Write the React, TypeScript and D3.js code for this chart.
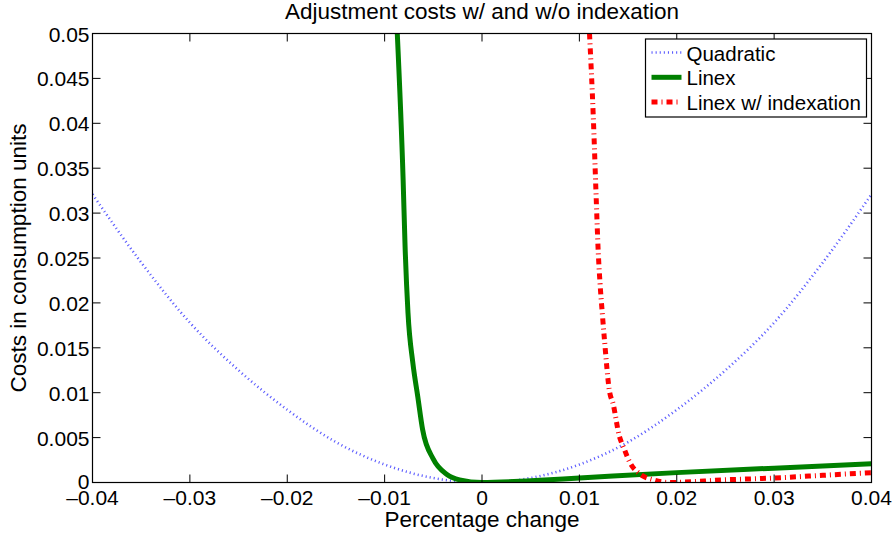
import * as d3 from 'd3';
import { useEffect, useRef } from 'react';

// values
const quadX = [-0.04, -0.035, -0.03, -0.025, -0.02, -0.015, -0.01, -0.005, 0, 0.005, 0.01, 0.015, 0.02, 0.025, 0.03, 0.035, 0.04];
const quadY = [0.0321, 0.0245, 0.0178, 0.0125, 0.0081, 0.0045, 0.002, 0.0005, 0, 0.0005, 0.002, 0.0045, 0.0081, 0.0125, 0.0178, 0.0245, 0.0321];

const linexX = [-0.0087, -0.0081, -0.0079, -0.0076, -0.0071, -0.0066, -0.0061, -0.005, -0.0036, -0.0023, 0, 0.005, 0.01, 0.02, 0.03, 0.04];
const linexY = [0.05, 0.0337, 0.0263, 0.0189, 0.0133, 0.0096, 0.0059, 0.0026, 0.0009, 0.0003, 0, 0.0002, 0.0005, 0.0011, 0.0016, 0.0021];

const indexX = [0.01104, 0.01143, 0.01171, 0.01194, 0.01212, 0.01235, 0.0126, 0.01307, 0.01348, 0.01407, 0.01458, 0.0152, 0.01615, 0.01759, 0.0192, 0.025, 0.03, 0.035, 0.04];
const indexY = [0.05, 0.0407, 0.0322, 0.0256, 0.0222, 0.0189, 0.0156, 0.0103, 0.0087, 0.0053, 0.0038, 0.0022, 0.001, 0.0003, 0, 0.0003, 0.0005, 0.0008, 0.0011];

const xTicks = [-0.04, -0.03, -0.02, -0.01, 0, 0.01, 0.02, 0.03, 0.04];
const yTicks = [0, 0.005, 0.01, 0.015, 0.02, 0.025, 0.03, 0.035, 0.04, 0.045, 0.05];

const seriesNames = ['Quadratic', 'Linex', 'Linex w/ indexation'];

const W = 893;
const H = 537;
const FONT = '"Liberation Sans", Arial, Helvetica, sans-serif';

export default function App() {
  const ref = useRef(null);

  useEffect(() => {
    const svg = d3.select(ref.current);
    svg.selectAll('*').remove();

    const margin = { top: 33.5, right: 21.5, bottom: 54.5, left: 92.5 };
    const innerW = W - margin.left - margin.right;
    const innerH = H - margin.top - margin.bottom;

    const x = d3.scaleLinear().domain([-0.04, 0.04]).range([0, innerW]);
    const y = d3.scaleLinear().domain([0, 0.05]).range([innerH, 0]);

    svg.append('defs').append('clipPath').attr('id', 'plotclip')
      .append('rect').attr('width', innerW).attr('height', innerH);

    const g = svg.append('g').attr('transform', `translate(${margin.left},${margin.top})`);

    const line = d3.line<[number, number]>()
      .x(d => x(d[0]))
      .y(d => y(d[1]))
      .curve(d3.curveMonotoneX);

    const styles = [
      { stroke: '#5c5cff', width: 2.6, dash: '1.1 3' },
      { stroke: '#008000', width: 5, dash: null },
      { stroke: '#ff0000', width: 5, dash: '6 4 1 4' },
    ];

    const series = [
      d3.zip(quadX, quadY),
      d3.zip(linexX, linexY),
      d3.zip(indexX, indexY),
    ];

    const lines = g.append('g').attr('clip-path', 'url(#plotclip)');
    series.forEach((pts, i) => {
      lines.append('path')
        .attr('d', line(pts as [number, number][]))
        .attr('fill', 'none')
        .attr('stroke', styles[i].stroke)
        .attr('stroke-width', styles[i].width)
        .attr('stroke-dasharray', styles[i].dash)
        .attr('stroke-linejoin', 'round');
    });

    // axes box
    g.append('rect')
      .attr('width', innerW).attr('height', innerH)
      .attr('fill', 'none').attr('stroke', '#000').attr('stroke-width', 1.2);

    const tickLen = 8;
    xTicks.forEach(t => {
      g.append('line').attr('x1', x(t)).attr('x2', x(t)).attr('y1', innerH).attr('y2', innerH - tickLen)
        .attr('stroke', '#000');
      g.append('line').attr('x1', x(t)).attr('x2', x(t)).attr('y1', 0).attr('y2', tickLen)
        .attr('stroke', '#000');
      g.append('text')
        .attr('x', x(t)).attr('y', innerH + 22)
        .attr('text-anchor', 'middle')
        .style('font-family', FONT).style('font-size', '21px')
        .text(t < 0 ? '\u2013' + d3.format('')(-t) : String(t));
    });
    yTicks.forEach(t => {
      g.append('line').attr('x1', 0).attr('x2', tickLen).attr('y1', y(t)).attr('y2', y(t))
        .attr('stroke', '#000');
      g.append('line').attr('x1', innerW).attr('x2', innerW - tickLen).attr('y1', y(t)).attr('y2', y(t))
        .attr('stroke', '#000');
      g.append('text')
        .attr('x', -3).attr('y', y(t) + (t === 0 ? 6 : 8))
        .attr('text-anchor', 'end')
        .style('font-family', FONT).style('font-size', '21px')
        .text(String(t));
    });

    // title and axis labels
    svg.append('text')
      .attr('x', margin.left + innerW / 2).attr('y', 18.5)
      .attr('text-anchor', 'middle')
      .style('font-family', FONT).style('font-size', '22.5px')
      .text('Adjustment costs w/ and w/o indexation');

    svg.append('text')
      .attr('x', margin.left + innerW / 2).attr('y', 527)
      .attr('text-anchor', 'middle')
      .style('font-family', FONT).style('font-size', '22.5px')
      .text('Percentage change');

    svg.append('text')
      .attr('transform', `translate(26,${margin.top + innerH / 2}) rotate(-90)`)
      .attr('text-anchor', 'middle')
      .style('font-family', FONT).style('font-size', '22.5px')
      .text('Costs in consumption units');

    // legend
    const lg = svg.append('g').attr('transform', 'translate(645.5,39)');
    lg.append('rect')
      .attr('width', 221).attr('height', 78)
      .attr('fill', '#fff').attr('stroke', '#000').attr('stroke-width', 1.2);
    seriesNames.forEach((name, i) => {
      const cy = 13.5 + i * 24.8;
      lg.append('line')
        .attr('x1', 6).attr('x2', 36).attr('y1', cy).attr('y2', cy)
        .attr('stroke', styles[i].stroke)
        .attr('stroke-width', styles[i].width)
        .attr('stroke-dasharray', styles[i].dash);
      lg.append('text')
        .attr('x', 41).attr('y', cy + 8)
        .style('font-family', FONT).style('font-size', '20.5px')
        .text(name);
    });

    return () => {
      svg.selectAll('*').remove();
    };
  }, []);

  return (
    <svg ref={ref} width={W} height={H}
      style={{ position: 'absolute', left: 0, top: 0, background: '#fff' }} />
  );
}
